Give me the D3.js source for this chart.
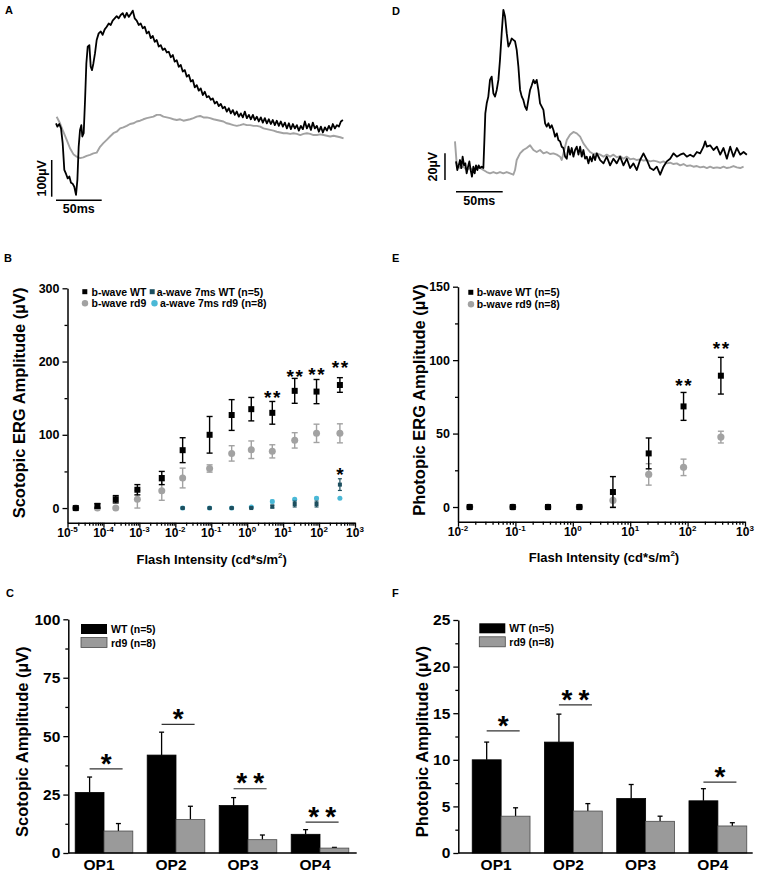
<!DOCTYPE html>
<html><head><meta charset="utf-8">
<script src="https://cdn.jsdelivr.net/npm/d3@7"></script>
<style>body{margin:0;background:#fff}</style>
</head><body>
<script>
// ---------------- DATA ----------------
// Panel A: scotopic ERG traces, [time ms, amplitude µV]
const traceA_WT = [[0,0],[1.5,-9],[3.6,-2],[5.5,-14],[7.3,-54],[9.1,-127],[11,-138],[12.8,-150],[14.6,-145],[16.4,-162],[18.3,-165],[20,-173],[21.9,-195],[23.4,-154],[24.8,-64],[26.3,-18],[27.7,-5],[28.8,-36],[30.3,-27],[31.8,64],[33.2,163],[34.7,209],[36.5,213],[38,154],[39.4,145],[40.9,163],[42.7,191],[44.5,227],[46.7,245],[49,250],[51,241],[53.3,256],[55.5,263],[57.7,272],[59.9,268],[62,280],[64.2,286],[66.4,292],[68.6,286],[70.8,295],[73,300],[75.2,288],[77.4,301],[79.6,290],[81.8,298],[84,307],[86.1,286],[88.3,280],[90.5,268],[92.7,272],[94.9,259],[97.1,263],[99.3,245],[101.5,250],[103.7,232],[105.9,238],[108,222],[110.2,227],[112.4,209],[114.6,213],[116.8,200],[119,204],[121.2,193],[123.4,195],[125.6,180],[127.8,186],[129.9,168],[132.1,172],[134.3,154],[136.5,159],[138.7,141],[140.9,145],[143.1,127],[145.3,132],[147.5,114],[149.7,118],[151.8,98],[154,104],[156.2,89],[158.4,95],[160.6,77],[162.8,86],[165,71],[167.2,74],[169.4,64],[171.5,68],[173.7,54],[175.9,59],[178.1,47],[180.3,53],[182.5,41],[184.7,45],[186.9,32],[189.1,41],[191.3,27],[193.5,36],[195.6,23],[197.8,32],[200,18],[202.2,27],[204.4,16],[206.6,32],[208.8,14],[211,23],[213.2,11],[215.4,23],[217.5,9],[219.7,18],[221.9,5],[224.1,16],[226.3,2],[228.5,14],[230.7,0],[232.9,11],[235,-2],[237.2,9],[239.4,-5],[241.6,7],[243.8,-7],[246,5],[248.2,-9],[250.4,2],[252.6,-14],[254.8,0],[257,-16],[259.2,-2],[261.3,-14],[263.5,-5],[265.7,-20],[267.9,-7],[270.1,-16],[272.3,5],[274.5,-14],[276.7,-2],[278.9,-18],[281,2],[283.2,-14],[285.4,-7],[287.6,-23],[289.8,-9],[292,-25],[294.2,-11],[296.4,-20],[298.6,-7],[300.8,-18],[302.9,-2],[305.1,-14],[307.3,-5],[309.5,-9],[311.7,5],[313.9,9]];
const traceA_rd9 = [[0.7,18],[4.4,0],[8,-23],[11.7,-45],[15.3,-68],[19,-84],[22.6,-91],[26.3,-95],[29.9,-93],[33.6,-89],[37.2,-86],[40.9,-82],[44.5,-80],[48.2,-64],[51.8,-54],[55.5,-45],[59.1,-36],[62.8,-27],[66.4,-23],[70.1,-14],[73.7,-11],[77.4,-7],[81,-2],[84.7,0],[88.3,5],[92,7],[95.6,11],[99.3,14],[102.9,16],[106.6,18],[110.2,23],[113.9,23],[117.5,18],[121.2,16],[124.8,14],[128.5,11],[132.1,9],[135.8,11],[139.4,7],[143.1,9],[146.7,11],[150.4,14],[154,18],[157.7,20],[161.3,16],[165,16],[168.6,14],[172.3,11],[175.9,9],[179.6,7],[183.2,5],[186.9,0],[190.5,-2],[194.2,-5],[197.8,-7],[201.5,-5],[205.1,-2],[208.8,-5],[212.4,-5],[216.1,-7],[219.7,-7],[223.4,-9],[227,-14],[230.7,-16],[234.3,-18],[238,-20],[241.6,-23],[245.3,-25],[248.9,-27],[252.6,-27],[256.2,-29],[259.9,-27],[263.5,-29],[267.2,-32],[270.8,-29],[274.5,-27],[278.1,-29],[281.8,-32],[285.4,-32],[289.1,-30],[292.7,-32],[296.4,-34],[300,-36],[303.7,-34],[307.3,-36],[311,-38],[314.6,-41]];
// Panel D: photopic ERG traces, [time ms, amplitude µV]
const traceD_WT = [[0,4],[1.4,-2.5],[2.9,1],[4.3,5],[5.7,-1],[7.1,7.5],[8.6,1],[10,2.5],[11.4,-5],[12.9,0],[14.3,4],[15.7,-2.5],[17.1,-7.5],[18.6,0],[20,-5],[21.4,1],[22.9,-2.5],[24.3,1],[25.7,-1],[27.5,0],[29.3,-1],[30.4,20],[31.4,40],[32.9,47.5],[34.6,52.5],[36.4,65],[38.2,67.5],[40,55],[41.8,52.5],[43.6,57.5],[45.4,65],[47.1,80],[48.9,100],[50.7,117.5],[52.5,112.5],[54.3,100],[56.1,90],[57.9,92.5],[59.6,96],[61.4,95],[63.2,94],[65,87.5],[66.8,75],[68.6,57.5],[70.4,52.5],[72.1,50],[73.9,45],[75.7,42.5],[77.5,50],[79.3,57.5],[81.1,61],[82.9,65],[84.6,62.5],[86.4,65],[88.2,57.5],[90,47.5],[91.8,45],[93.6,42.5],[95.4,32.5],[97.1,30],[98.9,32.5],[100.7,29],[102.5,31],[104.3,27.5],[106.1,22.5],[107.9,25],[109.6,20],[111.4,19],[113.2,15],[115,14],[116.8,7.5],[118.6,6],[120.4,15],[122.1,9],[123.9,14],[125.7,7.5],[127.5,12.5],[129.3,15],[131.1,9],[132.9,15],[134.6,7.5],[136.4,12.5],[138.2,6],[140,7.5],[141.8,2.5],[143.6,7.5],[145.4,4],[147.1,9],[148.9,5],[150.7,10],[154.3,5],[157.9,2.5],[161.4,7.5],[165,1],[168.6,6],[172.1,2.5],[175.7,7.5],[179.3,1],[182.9,6],[186.4,-1],[190,2.5],[193.6,-2.5],[197.1,5],[200.7,10],[204.3,5],[207.9,-1],[211.4,-2.5],[215,0],[218.6,-6],[222.1,0],[225.7,4],[229.3,6],[232.9,10],[236.4,7.5],[240,9],[243.6,10],[247.1,7.5],[250.7,9],[254.3,7.5],[257.9,11],[261.4,10],[265,15],[266.8,19],[268.6,15],[272.1,16],[275.7,12.5],[279.3,15],[282.9,9],[286.4,14],[290,6],[293.6,15],[297.1,7.5],[300.7,14],[304.3,9],[307.9,11],[311.4,9]];
const traceD_rd9 = [[-1.1,19],[0.7,2.5],[4.3,-1],[7.9,0],[11.4,-2.5],[15,-1],[18.6,-2.5],[22.1,0],[25.7,-1],[29.3,-2.5],[32.9,-4],[36.4,-5],[40,-4],[43.6,-5],[47.1,-4],[50.7,-5],[54.3,-4],[57.9,-5],[61.4,-6],[63.2,-2.5],[65,5],[68.6,10],[72.1,12.5],[75.7,14],[79.3,16],[82.9,12.5],[86.4,11],[90,12.5],[93.6,10],[97.1,11],[100.7,9.5],[104.3,10],[107.9,9],[111.4,7.5],[113.2,5],[115,10],[116.8,15],[118.6,20],[122.1,24],[125.7,26],[129.3,25],[132.9,22.5],[136.4,17.5],[140,14],[143.6,11],[147.1,9.5],[150.7,10],[154.3,9],[157.9,7.5],[161.4,9],[165,7.5],[168.6,9],[172.1,7],[175.7,8],[179.3,6],[182.9,7.5],[186.4,5.5],[190,6],[193.6,5],[197.1,5.5],[200.7,4.5],[204.3,5],[207.9,4],[211.4,4.5],[215,4],[218.6,3],[222.1,4],[225.7,2.5],[229.3,3],[232.9,2],[236.4,2.5],[240,1],[243.6,2],[247.1,0.5],[250.7,1],[254.3,0],[257.9,0.5],[261.4,-0.5],[265,0],[268.6,-1],[272.1,0],[275.7,-1],[279.3,-0.5],[282.9,-1],[286.4,0],[290,-1],[293.6,-0.5],[297.1,0.5],[300.7,-0.5],[304.3,-1],[307.9,0]];

// Panel B: scotopic intensity-response
const flashB = [1.7e-5, 6.8e-5, 2.2e-4, 8.8e-4, 4.2e-3, 0.016, 0.09, 0.37, 1.3, 5, 21, 85, 380];
const bWaveWT = [0, 3, 12, 25, 41, 79, 100, 127, 135, 130, 160, 159, 168];
const bWaveWTerr = [1, 3, 5, 7, 9, 17, 25, 21, 16, 15.5, 17, 16.5, 10];
const bWaveRd9 = [0, 0, 0, 12, 23.6, 41, 54, 74.6, 79.6, 77.4, 92.4, 102, 102];
const bWaveRd9err = [0, 0, 0, 12, 13, 13.5, 5, 10.5, 12, 9, 10.5, 12.5, 13];
const flashA = [0.016, 0.09, 0.37, 1.3, 5, 21, 85, 380];
const aWaveWT = [0, 0, 0, 0, 2, 5.5, 5.5, 32];
const aWaveWTerr = [0.5, 0.5, 0.5, 0.5, 2, 4, 4, 8];
const aWaveRd9 = [0, 0, 0, 1.5, 9, 12, 13.5, 13.5];
const aWaveRd9err = [0, 0, 0, 0.5, 2, 1.5, 1.5, 1];
const sigB_index = [9, 10, 11, 12];
const sigB_text = ["**", "**", "**", "**"];
const sigB_level = [157, 186, 188, 198];
const sigBa_index = [7];
const sigBa_text = ["*"];
const sigBa_level = [52];

// Panel E: photopic intensity-response
const flashE = [0.016, 0.09, 0.37, 1.3, 5, 21, 85, 380];
const eWaveWT = [0, 0, 0, 0, 10.2, 36.5, 68.5, 89.4];
const eWaveWTerr = [0.5, 0.5, 0.5, 0.5, 10.5, 10.5, 9.5, 12.5];
const eWaveRd9 = [0, 0, 0, 0, 4.5, 22.2, 27, 47.6];
const eWaveRd9err = [0, 0, 0, 0, 4.5, 7.3, 5.6, 4];
const sigE_index = [6, 7];
const sigE_text = ["**", "**"];
const sigE_level = [86, 111];

// Panels C and F: oscillatory potentials
const opLabels = ["OP1", "OP2", "OP3", "OP4"];
const scotWT = [25.9, 41.9, 20.3, 8.0];
const scotWTerr = [6.6, 9.8, 3.4, 2.0];
const scotRd9 = [9.4, 14.3, 5.7, 2.1];
const scotRd9err = [3.2, 5.7, 2.0, 0.3];
const scotSig = ["*", "*", "**", "**"];
const scotSigLevel = [36, 55, 27.5, 13.2];
const photWT = [10.0, 11.9, 5.85, 5.6];
const photWTerr = [1.9, 3.0, 1.5, 1.3];
const photRd9 = [3.95, 4.5, 3.4, 2.9];
const photRd9err = [0.9, 0.8, 0.55, 0.35];
const photSig = ["*", "**", "", "*"];
const photSigLevel = [13.1, 15.9, null, 7.6];

// ---------------- DRAWING ----------------
const FONT = '"Liberation Sans", Arial, Helvetica, sans-serif';
const GRAY = "#a2a2a2", TEAL = "#1d4f5f", CYAN = "#4ab8d6";
const svg = d3.select("body").append("svg").attr("width", 758).attr("height", 873)
  .style("font-family", FONT).style("background", "#fff");

function txt(x, y, s, fs, opts = {}) {
  const t = svg.append("text").attr("x", x).attr("y", y).attr("font-size", fs)
    .attr("font-weight", opts.weight || "bold").attr("fill", opts.fill || "#000")
    .attr("text-anchor", opts.anchor || "start").attr("font-family", FONT).text(s);
  if (opts.rotate) t.attr("transform", `rotate(-90,${x},${y})`);
  return t;
}
function styleAxis(g, fs) {
  g.attr("font-family", FONT).attr("font-size", fs);
  g.select(".domain").attr("stroke", "#000").attr("stroke-width", 1.5);
  g.selectAll(".tick line").attr("stroke", "#000").attr("stroke-width", 1.3);
  g.selectAll(".tick text").attr("font-weight", "bold").attr("fill", "#000");
}

// panel labels
txt(5, 13.5, "A", 11); txt(4, 262, "B", 11); txt(6, 597, "C", 11);
txt(392, 15, "D", 11); txt(392, 262, "E", 11); txt(392, 597, "F", 11);

// ---- traces ----
function tracePanel(wt, rd9, xs, ys, barX, vBar, hBarY, vLabel, vLabelX, hLabelY) {
  const line = d3.line().x(d => xs(d[0])).y(d => ys(d[1]));
  svg.append("path").datum(rd9).attr("fill", "none").attr("stroke", GRAY).attr("stroke-width", 1.9)
    .attr("stroke-linejoin", "round").attr("d", line);
  svg.append("path").datum(wt).attr("fill", "none").attr("stroke", "#000").attr("stroke-width", 1.8)
    .attr("stroke-linejoin", "round").attr("d", line);
  svg.append("line").attr("x1", xs(barX)).attr("x2", xs(barX)).attr("y1", ys(vBar[0])).attr("y2", ys(vBar[1]))
    .attr("stroke", "#000").attr("stroke-width", 1.5);
  svg.append("line").attr("x1", xs(0)).attr("x2", xs(50)).attr("y1", ys(hBarY)).attr("y2", ys(hBarY))
    .attr("stroke", "#000").attr("stroke-width", 1.5);
  txt(vLabelX, (ys(vBar[0]) + ys(vBar[1])) / 2, vLabel, 12.5, { anchor: "middle", rotate: true });
  txt((xs(0) + xs(50)) / 2, hLabelY, "50ms", 12.5, { anchor: "middle" });
}
const xA = d3.scaleLinear().domain([0, 50]).range([56, 101.7]);
const yA = d3.scaleLinear().domain([0, 100]).range([123.3, 86.6]);
tracePanel(traceA_WT, traceA_rd9, xA, yA, -4.7, [-100, -200], -210, "100µV", 46, 213);
const xD = d3.scaleLinear().domain([0, 50]).range([456, 502.7]);
const yD = d3.scaleLinear().domain([0, 20]).range([166.7, 140]);
tracePanel(traceD_WT, traceD_rd9, xD, yD, -11.8, [10, -10], -18.75, "20µV", 437, 205);

// ---- intensity-response panels ----
function logXAxis(xs, y, e0, e1) {
  const majors = d3.range(e0, e1 + 1).map(e => Math.pow(10, e));
  const minors = [];
  for (let e = e0; e < e1; e++) for (let j = 2; j <= 9; j++) minors.push(j * Math.pow(10, e));
  const gMin = svg.append("g").attr("transform", `translate(0,${y})`)
    .call(d3.axisBottom(xs).tickValues(minors).tickSize(3).tickFormat(""));
  gMin.select(".domain").remove();
  styleAxis(gMin, 12);
  const gMaj = svg.append("g").attr("transform", `translate(0,${y})`)
    .call(d3.axisBottom(xs).tickValues(majors).tickSize(5).tickSizeOuter(0).tickFormat(""));
  styleAxis(gMaj, 12);
  d3.range(e0, e1 + 1).forEach(e => {
    const t = svg.append("text").attr("x", xs(Math.pow(10, e))).attr("y", y + 14)
      .attr("text-anchor", "middle").attr("font-size", 12).attr("font-weight", "bold").attr("font-family", FONT);
    t.append("tspan").text("10");
    t.append("tspan").attr("dy", -5).attr("font-size", 8).text(e);
  });
}
function linYAxis(ys, x, majors, minors, fs, tl) {
  const gMin = svg.append("g").attr("transform", `translate(${x},0)`)
    .call(d3.axisLeft(ys).tickValues(minors).tickSize(3).tickFormat(""));
  gMin.select(".domain").remove();
  styleAxis(gMin, fs);
  const g = svg.append("g").attr("transform", `translate(${x},0)`)
    .call(d3.axisLeft(ys).tickValues(majors).tickSize(tl).tickSizeOuter(0).tickPadding(3));
  styleAxis(g, fs);
}
function errBars(xs, ys, xv, yv, ev, color, half, w) {
  xv.forEach((xx, i) => {
    if (!ev[i]) return;
    const cx = xs(xx), y1 = ys(yv[i] + ev[i]), y2 = ys(yv[i] - ev[i]);
    svg.append("line").attr("x1", cx).attr("x2", cx).attr("y1", y1).attr("y2", y2).attr("stroke", color).attr("stroke-width", w);
    [y1, y2].forEach(yy => svg.append("line").attr("x1", cx - half).attr("x2", cx + half).attr("y1", yy).attr("y2", yy)
      .attr("stroke", color).attr("stroke-width", w));
  });
}
function squares(xs, ys, xv, yv, size, color) {
  svg.append("g").selectAll("rect").data(xv).join("rect")
    .attr("x", d => xs(d) - size / 2).attr("y", (d, i) => ys(yv[i]) - size / 2)
    .attr("width", size).attr("height", size).attr("fill", color);
}
function circles(xs, ys, xv, yv, r, color) {
  svg.append("g").selectAll("circle").data(xv).join("circle")
    .attr("cx", d => xs(d)).attr("cy", (d, i) => ys(yv[i])).attr("r", r).attr("fill", color);
}
function stars(cx, cy, s, fs, pitch) {
  const n = s.length;
  for (let i = 0; i < n; i++) {
    svg.append("text").attr("x", cx + (i - (n - 1) / 2) * pitch).attr("y", cy + 0.58 * fs)
      .attr("text-anchor", "middle").attr("font-size", fs).attr("font-weight", "bold")
      .attr("font-family", FONT).text("*");
  }
}

// Panel B
const xB = d3.scaleLog().domain([1e-5, 1e3]).range([67.5, 355]);
const yB = d3.scaleLinear().domain([-20, 300]).range([522.7, 288.3]);
logXAxis(xB, 522.7, -5, 3);
linYAxis(yB, 67.5, [0, 100, 200, 300], [50, 150, 250], 12.5, 5);
errBars(xB, yB, flashB, bWaveRd9, bWaveRd9err, GRAY, 3, 1.4);
circles(xB, yB, flashB, bWaveRd9, 3.5, GRAY);
errBars(xB, yB, flashB, bWaveWT, bWaveWTerr, "#000", 3, 1.4);
squares(xB, yB, flashB, bWaveWT, 6, "#000");
errBars(xB, yB, flashA, aWaveRd9, aWaveRd9err, CYAN, 2, 1.2);
circles(xB, yB, flashA, aWaveRd9, 2.5, CYAN);
errBars(xB, yB, flashA, aWaveWT, aWaveWTerr, TEAL, 2, 1.2);
squares(xB, yB, flashA, aWaveWT, 4, TEAL);
sigB_index.forEach((idx, k) => stars(xB(flashB[idx]), yB(sigB_level[k]), sigB_text[k], 19, 9));
sigBa_index.forEach((idx, k) => stars(xB(flashA[idx]), yB(sigBa_level[k]), sigBa_text[k], 19, 9));
// legend B
svg.append("rect").attr("x", 82.3).attr("y", 289.2).attr("width", 5).attr("height", 5).attr("fill", "#000");
txt(91.5, 295.5, "b-wave WT", 10.5);
svg.append("rect").attr("x", 149.7).attr("y", 289.2).attr("width", 5).attr("height", 5).attr("fill", TEAL);
txt(156.7, 295.5, "a-wave 7ms WT (n=5)", 10.5);
svg.append("circle").attr("cx", 85).attr("cy", 303.3).attr("r", 3.2).attr("fill", GRAY);
txt(91.5, 307.2, "b-wave rd9", 10.5);
svg.append("circle").attr("cx", 154.5).attr("cy", 303.3).attr("r", 3.2).attr("fill", CYAN);
txt(160, 307.2, "a-wave 7ms rd9 (n=8)", 10.5);
txt(25, 403, "Scotopic ERG Amplitude (µV)", 16.5, { anchor: "middle", rotate: true });
function flashTitle(cx, y) {
  const t = svg.append("text").attr("x", cx).attr("y", y).attr("text-anchor", "middle")
    .attr("font-size", 13).attr("font-weight", "bold").attr("font-family", FONT);
  t.append("tspan").text("Flash Intensity (cd*s/m");
  t.append("tspan").attr("dy", -6).attr("font-size", 8).text("2");
  t.append("tspan").attr("dy", 6).text(")");
}
flashTitle(211.7, 563.5);

// Panel E
const xE = d3.scaleLog().domain([1e-2, 1e3]).range([458, 745]);
const yE = d3.scaleLinear().domain([-10, 150]).range([521.7, 286.7]);
logXAxis(xE, 521.7, -2, 3);
linYAxis(yE, 458, [0, 50, 100, 150], [25, 75, 125], 12.5, 5);
errBars(xE, yE, flashE, eWaveRd9, eWaveRd9err, GRAY, 3, 1.4);
circles(xE, yE, flashE, eWaveRd9, 3.6, GRAY);
errBars(xE, yE, flashE, eWaveWT, eWaveWTerr, "#000", 3, 1.4);
squares(xE, yE, flashE, eWaveWT, 6, "#000");
sigE_index.forEach((idx, k) => stars(xE(flashE[idx]), yE(sigE_level[k]), sigE_text[k], 19, 9));
svg.append("rect").attr("x", 468.3).attr("y", 289.8).attr("width", 5).attr("height", 5).attr("fill", "#000");
txt(476.7, 296, "b-wave WT (n=5)", 10.5);
svg.append("circle").attr("cx", 471).attr("cy", 304.3).attr("r", 3.2).attr("fill", GRAY);
txt(476.7, 308.2, "b-wave rd9 (n=8)", 10.5);
txt(425, 400, "Photopic ERG Amplitude (µV)", 16.5, { anchor: "middle", rotate: true });
flashTitle(604, 562);

// ---- bar panels ----
function barPanel(cfg) {
  const { xRange, axisX, axisEnd, ys, majors, minors, wt, wtErr, rd, rdErr, sig, sigLevel, title, titleX, legX, legY } = cfg;
  const x0 = d3.scaleBand().domain(opLabels).range(xRange).padding(0);
  const x1 = d3.scaleBand().domain(["WT", "rd9"]).range([0, x0.bandwidth()]).paddingInner(0).paddingOuter(0.25);
  const base = ys(0);
  opLabels.forEach((op, i) => {
    [["WT", wt[i], wtErr[i], "#000"], ["rd9", rd[i], rdErr[i], "#9a9a9a"]].forEach(([k, v, e, c]) => {
      const bx = x0(op) + x1(k), bw = x1.bandwidth(), cx = bx + bw / 2;
      svg.append("line").attr("x1", cx).attr("x2", cx).attr("y1", ys(v)).attr("y2", ys(v + e))
        .attr("stroke", "#000").attr("stroke-width", 1.3);
      svg.append("line").attr("x1", cx - 2.5).attr("x2", cx + 2.5).attr("y1", ys(v + e)).attr("y2", ys(v + e))
        .attr("stroke", "#000").attr("stroke-width", 1.3);
      svg.append("rect").attr("x", bx).attr("y", ys(v)).attr("width", bw).attr("height", base - ys(v))
        .attr("fill", c).attr("stroke", k === "WT" ? "#000" : "#4a4a4a").attr("stroke-width", 0.8);
    });
    if (sig[i]) {
      const cx = x0(op) + x1("WT") + x1.bandwidth() / 2;
      const ly = ys(sigLevel[i]);
      svg.append("line").attr("x1", cx).attr("x2", cx + 33).attr("y1", ly).attr("y2", ly)
        .attr("stroke", "#333").attr("stroke-width", 1.2);
      stars(cx + 16.5, ly - 12.5, sig[i], 28, 17);
    }
  });
  linYAxis(ys, axisX, majors, minors, 15.5, 5);
  svg.append("line").attr("x1", axisX).attr("x2", axisEnd).attr("y1", base).attr("y2", base)
    .attr("stroke", "#000").attr("stroke-width", 1.5);
  opLabels.forEach(op => txt(x0(op) + x0.bandwidth() / 2 - 5, 870, op, 15.5, { anchor: "middle" }));
  txt(titleX, 741.7, title, 16.5, { anchor: "middle", rotate: true });
  svg.append("rect").attr("x", legX).attr("y", legY).attr("width", 26).attr("height", 10).attr("fill", "#000");
  svg.append("rect").attr("x", legX).attr("y", legY + 13.5).attr("width", 26).attr("height", 10)
    .attr("fill", "#9a9a9a").attr("stroke", "#4a4a4a").attr("stroke-width", 0.8);
  txt(legX + 30, legY + 9, "WT (n=5)", 10.5);
  txt(legX + 30, legY + 22.5, "rd9 (n=8)", 10.5);
}
barPanel({ xRange: [68, 356], axisX: 68.3, axisEnd: 356.7, ys: d3.scaleLinear().domain([0, 100]).range([853, 619.3]),
  majors: [0, 25, 50, 75, 100], minors: [12.5, 37.5, 62.5, 87.5], wt: scotWT, wtErr: scotWTerr, rd: scotRd9, rdErr: scotRd9err,
  sig: scotSig, sigLevel: scotSigLevel, title: "Scotopic Amplitude (µV)", titleX: 28, legX: 81, legY: 624 });
barPanel({ xRange: [465, 754], axisX: 458.3, axisEnd: 752.7, ys: d3.scaleLinear().domain([0, 25]).range([853, 620]),
  majors: [0, 5, 10, 15, 20, 25], minors: [2.5, 7.5, 12.5, 17.5, 22.5], wt: photWT, wtErr: photWTerr, rd: photRd9, rdErr: photRd9err,
  sig: photSig, sigLevel: photSigLevel, title: "Photopic Amplitude (µV)", titleX: 428, legX: 479.3, legY: 623.3 });
</script>
</body></html>
